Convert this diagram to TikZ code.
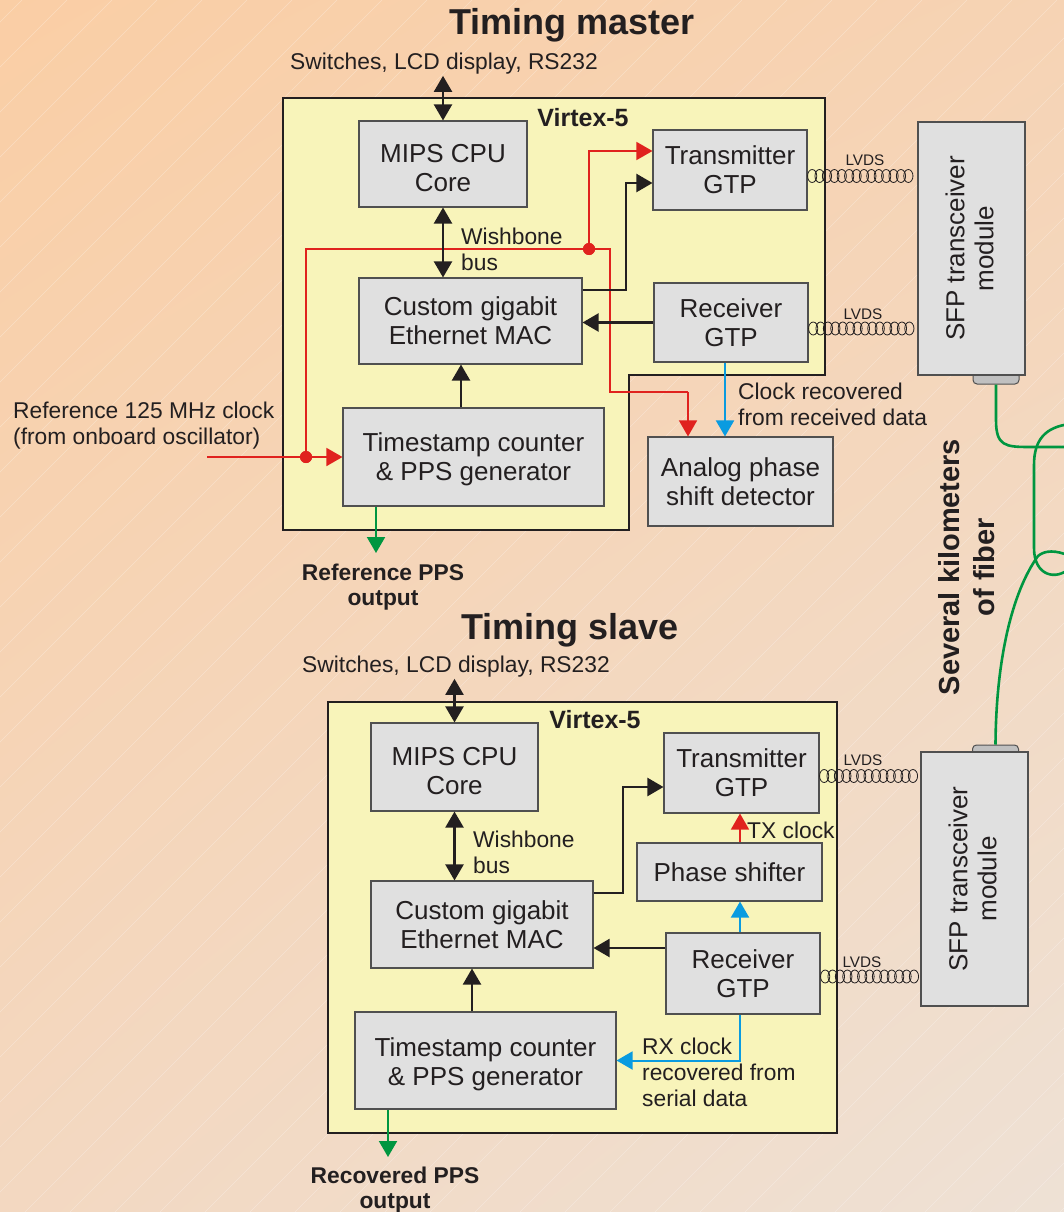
\documentclass[tikz,border=0pt]{standalone}
\usepackage{fontspec}
\setmainfont{Liberation Sans}
\usetikzlibrary{arrows.meta,decorations.markings,shadings}

\definecolor{bgtop}{RGB}{250,206,165}
\definecolor{bgright}{RGB}{246,211,180}
\definecolor{bgleft}{RGB}{243,216,193}
\definecolor{bgbot}{RGB}{238,225,213}
\definecolor{fpga}{RGB}{248,244,186}
\definecolor{blockfill}{RGB}{224,224,224}
\definecolor{blockline}{RGB}{80,80,80}
\definecolor{ink}{RGB}{35,31,32}
\definecolor{clkred}{RGB}{224,34,30}
\definecolor{rxblue}{RGB}{10,155,224}
\definecolor{ppsgreen}{RGB}{0,150,64}
\definecolor{tabgray}{RGB}{192,192,192}

\newcommand\blockfont{\fontsize{26}{29}\selectfont}
\newcommand\notefont{\fontsize{22.8}{26}\selectfont}
\newcommand\notebold{\fontsize{22.8}{25.5}\selectfont\bfseries}
\newcommand\headfont{\fontsize{36}{40}\selectfont\bfseries}
\newcommand\chipfont{\fontsize{25}{28}\selectfont\bfseries}
\newcommand\fiberfont{\fontsize{29}{35}\selectfont\bfseries}
\newcommand\lvdsfont{\fontsize{15.3}{17}\selectfont}

\tikzset{
  tip/.tip={Triangle[width=18pt,length=16pt]},
  block/.style={draw=blockline, fill=blockfill, line width=1.1pt, align=center,
    inner sep=0pt, text=ink, font=\blockfont},
  blocktext/.style={align=center, inner sep=0pt, text=ink, font=\blockfont},
  sfplabel/.style={blocktext, rotate=90},
  fpgabox/.style={draw=ink, fill=fpga, line width=1.2pt},
  note/.style={align=left, inner sep=1pt, text=ink, font=\notefont},
  heading/.style={inner sep=1pt, text=ink, font=\headfont},
  chiplabel/.style={inner sep=1pt, text=ink, font=\chipfont},
  ppslabel/.style={align=center, inner sep=1pt, text=ink, font=\notebold},
  lvdslabel/.style={inner sep=1pt, text=ink, font=\lvdsfont},
  bus/.style={draw=ink, line width=2.2pt, tip-tip},
  sig/.style={draw=ink, line width=2.2pt, -tip},
  clkline/.style={draw=clkred, line width=1.6pt},
  clk/.style={clkline, -tip},
  rxclk/.style={draw=rxblue, line width=2pt, -tip},
  pps/.style={draw=ppsgreen, line width=2pt, -tip},
  junction/.style={circle, fill=clkred, inner sep=0pt, minimum size=12pt},
  lvds/.style={decorate, decoration={markings,
    mark=between positions 4.6pt and -4.6pt step 7.4pt with
      {\draw[ink, line width=0.8pt] (0,0) ellipse (4.6pt and 6.5pt);}}},
  sfptab/.style={draw=blockline, fill=tabgray, line width=1pt, rounded corners=4pt,
    minimum width=46pt, minimum height=12pt, inner sep=0pt},
  fiber/.style={draw=ppsgreen, line width=2.6pt},
  hatch/.style={draw=white, opacity=0.3, line width=0.6pt},
}

\begin{document}
\begin{tikzpicture}[x=1pt,y=-1pt]
  \useasboundingbox (0,0) rectangle (1064,1212);
  \clip (0,0) rectangle (1064,1212);
  % background
  \shade[upper left=bgtop, upper right=bgright, lower left=bgleft, lower right=bgbot]
    (0,0) rectangle (1064,1212);
  \foreach \d in {-1190,-1145,...,1060}
    \draw[hatch] (\d,1212) -- (\d+1212,0);

  % ---------------- timing master ----------------
  \node[heading] (mtitle) at (572,25) {Timing master};
  \node[note, align=center] (mswitch) at (444,64) {Switches, LCD display, RS232};
  \draw[fpgabox] (283,98) -- (825,98) -- (825,375) -- (629,375) -- (629,530) -- (283,530) -- cycle;
  \node[chiplabel] (mchip) at (583,118) {Virtex-5};

  \node[block, minimum width=168pt, minimum height=86pt] (mcpu) at (443,164) {};
  \node[blocktext] (mcput) at ([yshift=-4pt]mcpu.center) {MIPS CPU\\Core};
  \node[block, minimum width=223pt, minimum height=86pt] (mmac) at (470.5,321) {Custom gigabit\\Ethernet MAC};
  \node[block, minimum width=261pt, minimum height=98pt] (mtsc) at (473.5,457) {};
  \node[blocktext] (mtsct) at ([yshift=-2pt]mtsc.center) {Timestamp counter\\\& PPS generator};
  \node[block, minimum width=154pt, minimum height=80pt] (mtx) at (730,170) {Transmitter\\GTP};
  \node[block, minimum width=154pt, minimum height=79pt] (mrx) at (731,322.5) {Receiver\\GTP};
  \node[block, minimum width=185pt, minimum height=89pt] (mapd) at (740.5,481.5) {Analog phase\\shift detector};
  \node[sfptab] (mtab) at (996,378) {};
  \node[block, minimum width=107pt, minimum height=253pt] (msfp) at (971.5,248.5) {};
  \node[sfplabel] (msfpl) at ([xshift=-2pt]msfp.center) {SFP transceiver\\module};

  % reference clock distribution
  \coordinate (clkin) at (207,457);
  \node[junction] (mj1) at (306,457) {};
  \node[junction] (mj2) at (589,249) {};
  \coordinate (mapdin) at ([xshift=-52.5pt]mapd.north);
  \draw[clkline] (mj1) |- (610,249) -- (610,392) -- (mapdin |- 0,392);
  \draw[clk] (mapdin |- 0,392) -- (mapdin);
  \draw[clk] (clkin) -- (mtsc.west);
  \draw[clk] (mj2.center) |- ([yshift=19pt]mtx.west);
  \node[junction] at (mj1) {};
  \node[junction] at (mj2) {};

  % data paths
  \draw[bus] (mswitch.south -| mcpu.north) -- (mcpu.north);
  \draw[bus] (mcpu.south) -- (mcpu.south |- mmac.north);
  \node[note] (mwb) at (460,249) [anchor=west] {Wishbone\\bus};
  \draw[sig] ([xshift=-12.5pt]mtsc.north) -- ([xshift=-9.5pt]mmac.south);
  \draw[sig] (mrx.west) -- (mrx.west -| mmac.east);
  \draw[sig] ([yshift=31pt]mmac.east) -- (626,290) |- ([yshift=-13pt]mtx.west);

  \coordinate (mrxo) at ([xshift=-6pt]mrx.south);
  \draw[rxclk] (mrxo) -- (mrxo |- mapd.north);
  \node[note, anchor=west] (mrec) at (737,404) {Clock recovered\\from received data};

  \coordinate (mppso) at (376,553);
  \draw[pps] ([xshift=-97.5pt]mtsc.south) -- (mppso);
  \node[ppslabel] (mppsl) at (383,587) {Reference PPS\\output};

  \node[note, anchor=west] (mref) at (12,426) {Reference 125 MHz clock\\(from onboard oscillator)};

  % LVDS links
  \coordinate (mlv1) at ([yshift=-6pt]mtx.east);
  \coordinate (mlv2) at ([yshift=-6pt]mrx.east);
  \path[lvds] (mlv1) -- (mlv1 -| msfp.west);
  \path[lvds] (mlv2) -- (mlv2 -| msfp.west);
  \node[lvdslabel] at (865,160) {LVDS};
  \node[lvdslabel] at (863,314) {LVDS};

  % ---------------- timing slave ----------------
  \node[heading] (stitle) at (570,630) {Timing slave};
  \node[note, align=center] (sswitch) at (456,667) {Switches, LCD display, RS232};
  \draw[fpgabox] (328,702) rectangle (837,1133);
  \node[chiplabel] (schip) at (595,720) {Virtex-5};

  \node[block, minimum width=167pt, minimum height=88pt] (scpu) at (454.5,767) {};
  \node[blocktext] (scput) at ([yshift=-4pt]scpu.center) {MIPS CPU\\Core};
  \node[block, minimum width=222pt, minimum height=87pt] (smac) at (482,924.5) {Custom gigabit\\Ethernet MAC};
  \node[block, minimum width=261pt, minimum height=97pt] (stsc) at (485.5,1060.5) {};
  \node[blocktext] (stsct) at ([yshift=-4pt]stsc.center) {Timestamp counter\\\& PPS generator};
  \node[block, minimum width=155pt, minimum height=80pt] (stx) at (741.5,773) {Transmitter\\GTP};
  \node[block, minimum width=185pt, minimum height=58pt] (sphs) at (729.5,872) {Phase shifter};
  \node[block, minimum width=154pt, minimum height=81pt] (srx) at (743,973.5) {Receiver\\GTP};
  \node[sfptab] (stab) at (995.5,751) {};
  \node[block, minimum width=107pt, minimum height=254pt] (ssfp) at (974.5,879) {};
  \node[sfplabel] (ssfpl) at ([xshift=-2pt]ssfp.center) {SFP transceiver\\module};

  \draw[bus] (sswitch.south -| scpu.north) -- (scpu.north);
  \draw[bus] (scpu.south) -- (scpu.south |- smac.north);
  \node[note, anchor=west] (swb) at (472,852) {Wishbone\\bus};
  \draw[sig] ([xshift=-13.5pt]stsc.north) -- ([xshift=-10pt]smac.south);
  \coordinate (srxo) at ([yshift=25.5pt]srx.west);
  \draw[sig] (srxo) -- (srxo -| smac.east);
  \draw[sig] ([yshift=31.5pt]smac.east) -- (623,893) |- ([yshift=-14pt]stx.west);

  \coordinate (sphso) at ([xshift=10.5pt]sphs.north);
  \draw[clk] (sphso) -- (sphso |- stx.south);
  \node[note, anchor=west] (stxc) at (746,830) {TX clock};
  \coordinate (srxn) at ([xshift=-3pt]srx.north);
  \draw[rxclk] (srxn) -- (srxn |- sphs.south);
  \draw[rxclk] ([xshift=-3pt]srx.south) |- (stsc.east);
  \node[note, anchor=west] (srxc) at (641,1072) {RX clock\\recovered from\\serial data};

  \coordinate (sppso) at (388,1157);
  \draw[pps] ([xshift=-97.5pt]stsc.south) -- (sppso);
  \node[ppslabel] (sppsl) at (395,1190) {Recovered PPS\\output};

  \coordinate (slv1) at ([yshift=-3pt]stx.east);
  \coordinate (slv2) at ([yshift=-3pt]srx.east);
  \path[lvds] (slv1) -- (slv1 -| ssfp.west);
  \path[lvds] (slv2) -- (slv2 -| ssfp.west);
  \node[lvdslabel] at (863,760) {LVDS};
  \node[lvdslabel] at (862,962) {LVDS};

  % ---------------- fiber ----------------
  \draw[fiber] (mtab.south) -- (996,420) .. controls (996,446) and (1005,447) .. (1030,447) -- (1070,447);
  \draw[fiber] (1070,424) .. controls (1045,427) and (1034,440) .. (1034,465) -- (1034,548)
    .. controls (1034,576) and (1056,581) .. (1070,568);
  \draw[fiber] (1070,556) .. controls (1056,550) and (1045,550) .. (1038,556)
    .. controls (1012,592) and (996,660) .. (stab.north);
  \node[text=ink, font=\fiberfont, align=center, rotate=90] (fibl) at (967,567) {Several kilometers\\of fiber};
\end{tikzpicture}
\end{document}
